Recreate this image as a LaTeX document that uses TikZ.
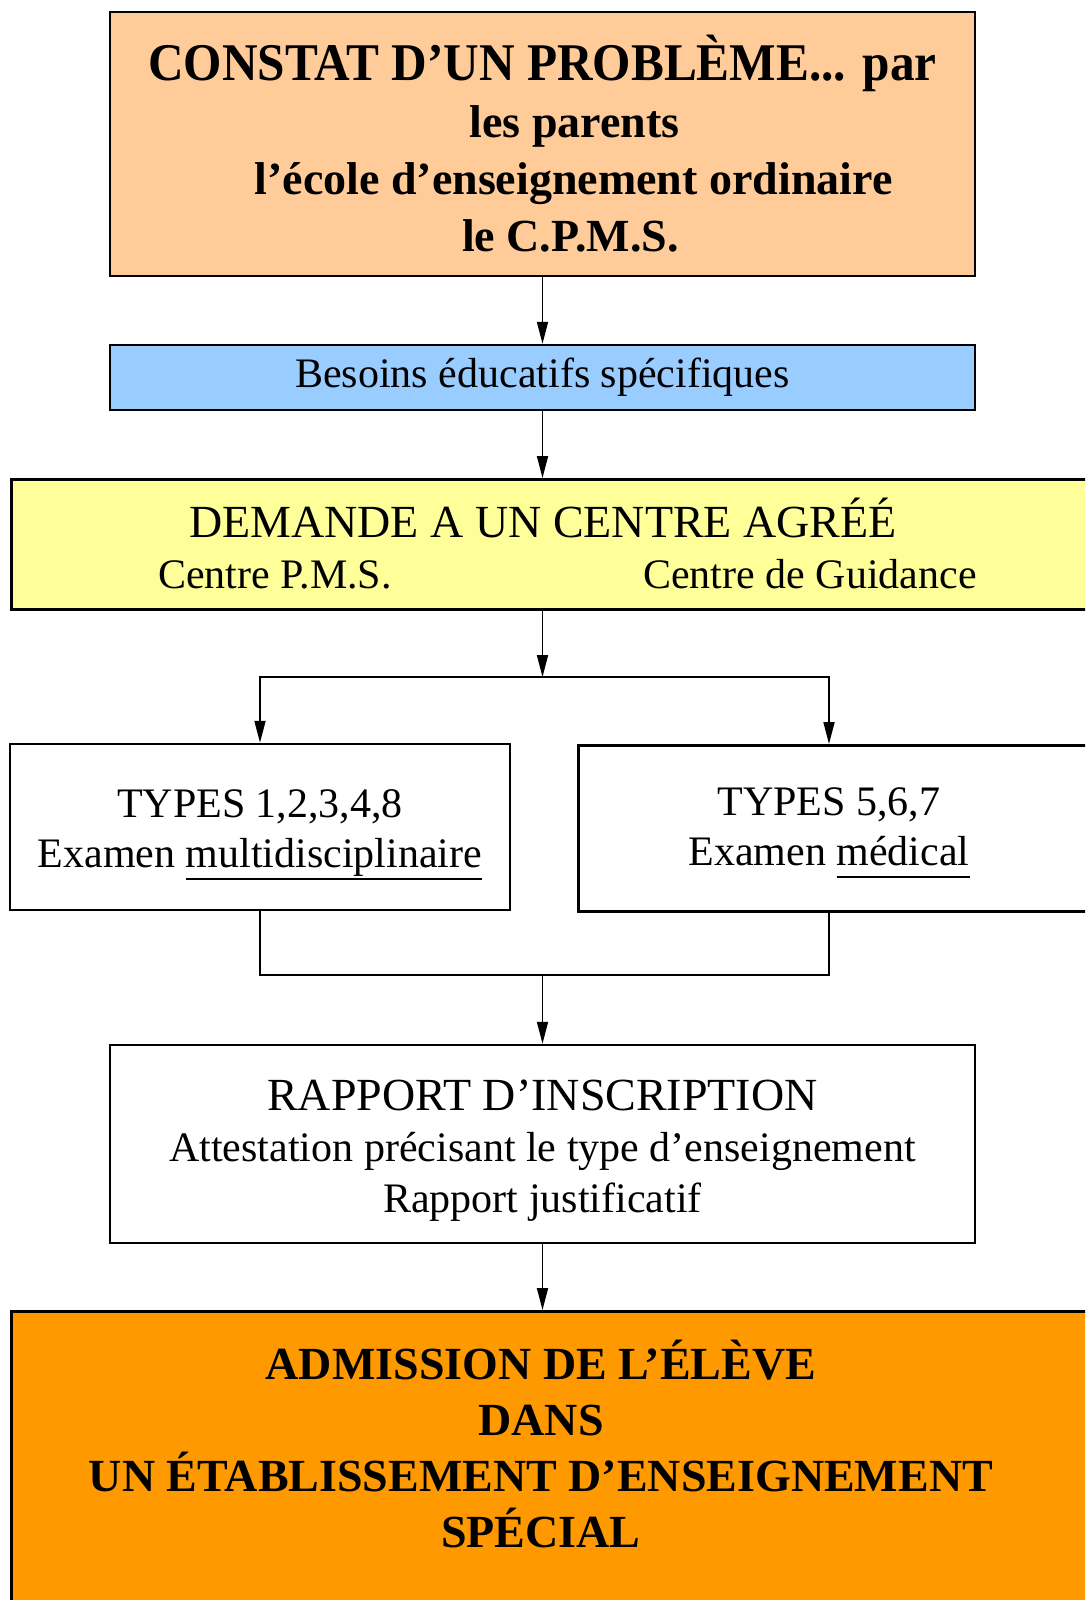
\documentclass[tikz,border=0pt]{standalone}
\usepackage{fontspec}
\usepackage{graphicx}
\setmainfont{Liberation Serif}
\usetikzlibrary{arrows.meta}
\definecolor{peche}{HTML}{FFCC99}
\definecolor{ciel}{HTML}{99CCFF}
\definecolor{jaune}{HTML}{FFFF99}
\definecolor{orangevif}{HTML}{FF9900}
\newcommand{\souligne}[1]{\setbox0\hbox{#1}\rlap{\raisebox{-12pt}[0pt][0pt]{\rule{\wd0}{2pt}}}\box0}
\begin{document}
\begin{tikzpicture}[x=1pt,y=-1pt,>={Triangle[width=11pt,length=22pt]},
    cadre/.style={draw,line width=2.5pt,inner sep=0pt,align=center},
    texte/.style={inner sep=0pt,align=center},
    normal/.style={font=\fontsize{42}{50}\selectfont},
    fleche/.style={line width=1.8pt}]
    \useasboundingbox (0,0) rectangle (1085,1600);
    \clip (0,0) rectangle (1085,1600);
    \node[cadre,fill=peche,minimum width=865pt,minimum height=264pt,font=\bfseries\fontsize{46}{57}\selectfont](constat) at (542.5,144)
        {\scalebox{0.93}[1]{\fontsize{53}{57}\selectfont CONSTAT D’UN PROBLÈME... par}\\ \hspace*{64pt}les parents\\ \hspace*{62pt}l’école d’enseignement ordinaire\\ \hspace*{56pt}le C.P.M.S.};
    \node[cadre,normal,fill=ciel,minimum width=865pt,minimum height=65pt](besoins) at (542.5,377.5){Besoins éducatifs spécifiques};
    \node[cadre,overlay,fill=jaune,anchor=north west,minimum width=1100pt,minimum height=130pt](demande) at (10,478){};
    \node[texte,anchor=base,font=\fontsize{46}{50}\selectfont](demandetitre) at (543,537){DEMANDE A UN CENTRE AGRÉÉ};
    \node[texte,normal,anchor=base](pms) at (275,588){Centre P.M.S.};
    \node[texte,normal,anchor=base](guidance) at (810,588){Centre de Guidance};
    \node[cadre,normal,minimum width=500pt,minimum height=166pt](typesA) at (260,827){\rule{0pt}{40pt}TYPES 1,2,3,4,8\\Examen \souligne{multidisciplinaire}};
    \node[cadre,overlay,anchor=north west,minimum width=520pt,minimum height=166pt](typesB) at (577,744){};
    \node[texte,normal](typesBtxt) at (829,827){TYPES 5,6,7\\Examen \souligne{médical}};
    \node[cadre,minimum width=865pt,minimum height=198pt,font=\fontsize{42}{51}\selectfont](rapport) at (542.5,1144)
        {\rule{0pt}{43pt}{\fontsize{46}{51}\selectfont RAPPORT D’INSCRIPTION}\\Attestation précisant le type d’enseignement\\Rapport justificatif};
    \node[cadre,overlay,fill=orangevif,anchor=north west,minimum width=1100pt,minimum height=320pt](admission) at (10,1310){};
    \node[texte,font=\bfseries\fontsize{46}{56}\selectfont](admissiontxt) at (541,1444)
        {ADMISSION DE L’ÉLÈVE\\DANS\\UN ÉTABLISSEMENT D’ENSEIGNEMENT\\SPÉCIAL};
    \coordinate(split) at (542.5,677);
    \coordinate(merge) at (542.5,975);
    \draw[fleche,->](constat)--(besoins);
    \draw[fleche,->](besoins)--(besoins|-demande.north);
    \draw[fleche,->](besoins|-demande.south)--(split);
    \draw[fleche,->](split)-|(typesA.north);
    \draw[fleche,->](split)-|(typesB.north-|typesBtxt);
    \draw[fleche](typesA)|-(merge)-|(typesB.south-|typesBtxt);
    \draw[fleche,->](merge)--(rapport);
    \draw[fleche,->](rapport)--(rapport|-admission.north);
\end{tikzpicture}
\end{document}
